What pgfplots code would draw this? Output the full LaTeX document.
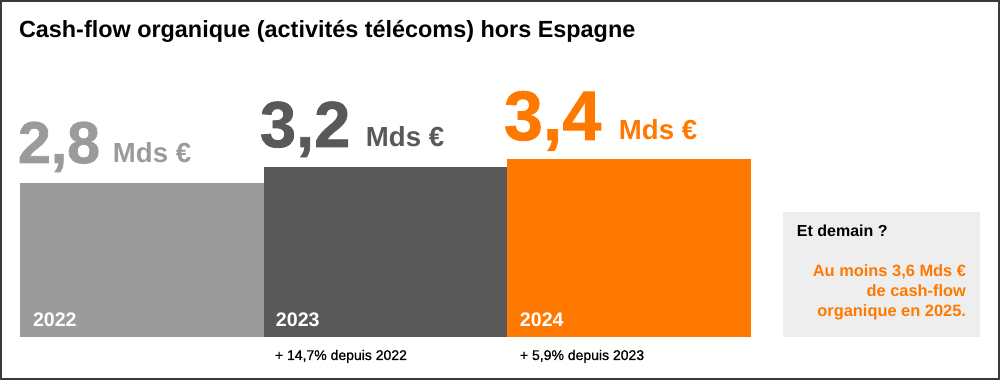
\documentclass[border=0pt]{standalone}
\usepackage{fontspec}
\setmainfont{Liberation Sans}
\newfontfamily\medfont[FakeBold=1.0]{Liberation Sans}
\newfontfamily\heavyfont[FakeBold=1.2]{Liberation Sans Bold}
\usepackage{pgfplots}
\usepackage{pgfplotstable}
\pgfplotsset{compat=1.18}
\definecolor{gA}{HTML}{9B9B9B}
\definecolor{gB}{HTML}{595959}
\definecolor{orC}{HTML}{FF7900}
\definecolor{boxg}{HTML}{EEEEEE}
\definecolor{frame}{HTML}{3A3A3A}
% bar centres in pixel units of the 1000 px wide picture; v = value in Mds EUR
\pgfplotstableread{
x v
141.75 2.8
}\dataA
\pgfplotstableread{
x v
385.25 3.2
}\dataB
\pgfplotstableread{
x v
628.75 3.4
}\dataC
\newcommand{\fs}[1]{\fontsize{#1bp}{#1bp}\selectfont}
\begin{document}
\begin{tikzpicture}
\path (0,0) rectangle (500bp,-190bp);
\begin{axis}[
  at={(0bp,-190bp)}, anchor=south west,
  scale only axis, width=500bp, height=190bp,
  xmin=0, xmax=1000, ymin=-1.075, ymax=8.425,
  enlargelimits=false, hide axis, clip=false]
\addplot[ybar, bar width=243.5, bar shift=0pt, fill=gA, draw=none]
  table[x=x, y expr=\thisrow{v}+1.05] {\dataA};
\addplot[ybar, bar width=243.5, bar shift=0pt, fill=gB, draw=none]
  table[x=x, y expr=\thisrow{v}+1.05] {\dataB};
\addplot[ybar, bar width=243.5, bar shift=0pt, fill=orC, draw=none]
  table[x=x, y expr=\thisrow{v}+1.05] {\dataC};
\end{axis}
\begin{scope}[x=0.5bp, y=-0.5bp, every node/.style={inner sep=0pt, outer sep=0pt}]
  \draw[frame, line width=1bp] (1,1) rectangle (999,379);
  \node[anchor=base west] at (19,37) {\fs{11.7}\bfseries Cash-flow organique (activités télécoms) hors Espagne};
  % value labels
  \node[anchor=base west, text=gA] at (18,163) {\fs{29.5}\heavyfont 2,8};
  \node[anchor=base west, text=gA] at (113,163) {\fs{13.8}\bfseries Mds €};
  \node[anchor=base west, text=gB] at (260,147) {\fs{32.5}\heavyfont 3,2};
  \node[anchor=base west, text=gB] at (366,147) {\fs{13.8}\bfseries Mds €};
  \node[anchor=base west, text=orC] at (504,140) {\fs{35}\heavyfont 3,4};
  \node[anchor=base west, text=orC] at (619,140) {\fs{13.8}\bfseries Mds €};
  % year labels
  \node[anchor=base west, text=white] at (33,327) {\fs{9.8}\bfseries 2022};
  \node[anchor=base west, text=white] at (276,327) {\fs{9.8}\bfseries 2023};
  \node[anchor=base west, text=white] at (520,327) {\fs{9.8}\bfseries 2024};
  % growth notes
  \node[anchor=base west] at (275,360) {\fs{7}\medfont + 14,7\% depuis 2022};
  \node[anchor=base west] at (520,360) {\fs{7}\medfont + 5,9\% depuis 2023};
  % side box
  \fill[boxg] (783,212) rectangle (980,337);
  \node[anchor=base west] at (797,237) {\fs{8}\bfseries Et demain ?};
  \node[anchor=base east, text=orC] at (966,277) {\fs{8.2}\bfseries Au moins 3,6 Mds €};
  \node[anchor=base east, text=orC] at (966,297) {\fs{8.2}\bfseries de cash-flow};
  \node[anchor=base east, text=orC] at (966,317) {\fs{8.2}\bfseries organique en 2025.};
\end{scope}
\end{tikzpicture}
\end{document}
